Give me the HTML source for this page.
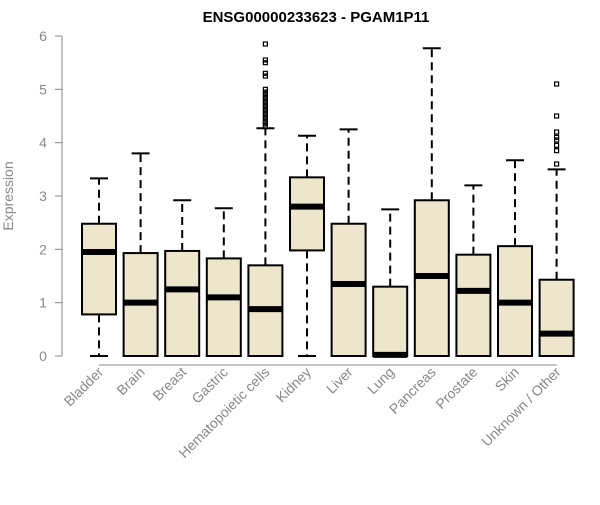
<!DOCTYPE html>
<html><head><meta charset="utf-8"><style>
body{margin:0;background:#fff}
svg text{font-family:"Liberation Sans",sans-serif}
</style></head><body>
<svg id="chart" width="600" height="500">
<text x="316" y="22" text-anchor="middle" font-weight="bold" font-size="15">ENSG00000233623 - PGAM1P11</text>
<text transform="translate(13,196) rotate(-90)" text-anchor="middle" font-size="14" fill="#888">Expression</text>
<g id="yaxis"></g>
<g id="boxes"></g>
<g id="xlabels"></g>
</svg>
<script>
const categories=["Bladder","Brain","Breast","Gastric","Hematopoietic cells","Kidney","Liver","Lung","Pancreas","Prostate","Skin","Unknown / Other"];
const whiskLow=[0,0,0,0,0,0,0,0,0,0,0,0];
const q1=[0.78,0,0,0,0,1.98,0,0,0,0,0,0];
const medians=[1.95,1.0,1.25,1.1,0.88,2.8,1.35,0.02,1.5,1.22,1.0,0.42];
const q3=[2.48,1.93,1.97,1.83,1.7,3.35,2.48,1.3,2.92,1.9,2.06,1.43];
const whiskHigh=[3.33,3.8,2.92,2.77,4.27,4.13,4.25,2.75,5.77,3.2,3.67,3.5];
const outliers=[[],[],[],[],[5.85,5.55,5.5,5.3,5.25,5.0,4.95,4.9,4.85,4.8,4.75,4.7,4.65,4.6,4.55,4.5,4.45,4.4,4.35,4.3],[],[],[],[],[],[],[5.1,4.5,4.2,4.1,4.05,3.95,3.85,3.6]];
const yTicks=[0,1,2,3,4,5,6];
const NS="http://www.w3.org/2000/svg";
const y=v=>356-v*53.33;
const x=i=>99+i*41.6;
function mk(t,a,p){const e=document.createElementNS(NS,t);for(const k in a)e.setAttribute(k,a[k]);p.appendChild(e);return e;}
const ya=document.getElementById('yaxis');
mk('line',{x1:62,x2:62,y1:y(0),y2:y(6),stroke:'#888'},ya);
yTicks.forEach(t=>{
 const tk=mk('line',{x1:55,x2:62,y1:y(t),y2:y(t),stroke:'#888'},ya);
 
 
 const tx=mk('text',{x:43,y:y(t)+5,'text-anchor':'middle','font-size':14,fill:'#888'},ya);
 tx.textContent=t;
 
 
});
mk('line',{x1:x(0),x2:x(11),y1:365,y2:365,stroke:'#888'},ya);
const bg=document.getElementById('boxes'),xl=document.getElementById('xlabels');
categories.forEach((c,i)=>{
 const g=mk('g',{},bg);
 
 
 const cx=x(i),w=17;
 mk('line',{x1:cx,x2:cx,y1:y(q3[i]),y2:y(whiskHigh[i]),stroke:'#000','stroke-width':2,'stroke-dasharray':'8,5'},g);
 mk('line',{x1:cx,x2:cx,y1:y(q1[i]),y2:y(whiskLow[i]),stroke:'#000','stroke-width':2,'stroke-dasharray':'8,5'},g);
 mk('line',{x1:cx-9,x2:cx+9,y1:y(whiskHigh[i]),y2:y(whiskHigh[i]),stroke:'#000','stroke-width':2},g);
 mk('line',{x1:cx-9,x2:cx+9,y1:y(whiskLow[i]),y2:y(whiskLow[i]),stroke:'#000','stroke-width':2},g);
 mk('rect',{x:cx-w,y:y(q3[i]),width:2*w,height:y(q1[i])-y(q3[i]),fill:'#ede6cc',stroke:'#000','stroke-width':2},g);
 mk('line',{x1:cx-w,x2:cx+w,y1:y(medians[i]),y2:y(medians[i]),stroke:'#000','stroke-width':6},g);
 outliers[i].forEach(v=>{mk('rect',{x:cx-2,y:y(v)-2,width:4,height:4,fill:'none',stroke:'#000','stroke-width':1.2},g);});
 const t=mk('text',{transform:`translate(${cx+5},373) rotate(-45)`,'text-anchor':'end','font-size':14,fill:'#888'},xl);
 t.textContent=c;
 
 
});
</script>
</body></html>
